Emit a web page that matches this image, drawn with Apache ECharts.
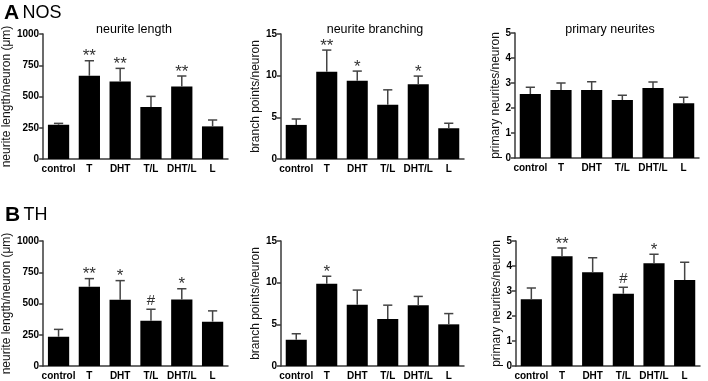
<!DOCTYPE html>
<html>
<head>
<meta charset="UTF-8">
<title>NOS / TH neurite morphology</title>
<style>
body{margin:0;background:#fff;}
</style>
</head>
<body>
<div id="main" style="width:708px;height:381px;"></div>
<script src="https://cdn.jsdelivr.net/npm/echarts@6/dist/echarts.min.js"></script>
<script>
var groups = ['control', 'T', 'DHT', 'T/L', 'DHT/L', 'L'];

// A  NOS neurons
var nosLength = [274, 666, 621, 416, 581, 261];
var nosLengthSem = [11, 120, 104, 85, 83, 51];
var nosLengthSig = ['', '**', '**', '', '**', ''];

var nosBranch = [4.09, 10.46, 9.38, 6.5, 8.98, 3.69];
var nosBranchSem = [0.71, 2.61, 1.17, 1.8, 0.97, 0.6];
var nosBranchSig = ['', '**', '*', '', '*', ''];

var nosPrimary = [2.56, 2.72, 2.72, 2.32, 2.8, 2.19];
var nosPrimarySem = [0.27, 0.28, 0.33, 0.19, 0.24, 0.24];
var nosPrimarySig = ['', '', '', '', '', ''];

// B  TH neurons
var thLength = [234, 634, 530, 363, 532, 355];
var thLengthSem = [59, 65, 153, 91, 86, 86];
var thLengthSig = ['', '**', '*', '#', '*', ''];

var thBranch = [3.15, 9.88, 7.34, 5.65, 7.3, 5.0];
var thBranchSem = [0.72, 0.89, 1.77, 1.65, 1.05, 1.29];
var thBranchSig = ['', '*', '', '', '', ''];

var thPrimary = [2.67, 4.39, 3.75, 2.89, 4.11, 3.44];
var thPrimarySem = [0.45, 0.33, 0.58, 0.26, 0.36, 0.71];
var thPrimarySig = ['', '**', '', '#', '*', ''];

// y axis ranges
var lengthTicks = [0, 1000, 250];
var branchTicks = [0, 15, 5];
var primaryTicks = [0, 5, 1];

var panels = [
	{mean: nosLength, sem: nosLengthSem, sig: nosLengthSig, ticks: lengthTicks, name: 'neurite length/neuron (\u03bcm)', left: 42, top: 34, width: 186, gap: 23},
	{mean: nosBranch, sem: nosBranchSem, sig: nosBranchSig, ticks: branchTicks, name: 'branch points/neuron', left: 281, top: 34, width: 183, gap: 18},
	{mean: nosPrimary, sem: nosPrimarySem, sig: nosPrimarySig, ticks: primaryTicks, name: 'primary neurites/neuron', left: 515, top: 33, width: 184, gap: 13},
	{mean: thLength, sem: thLengthSem, sig: thLengthSig, ticks: lengthTicks, name: 'neurite length/neuron (\u03bcm)', left: 42, top: 241, width: 186, gap: 23},
	{mean: thBranch, sem: thBranchSem, sig: thBranchSig, ticks: branchTicks, name: 'branch points/neuron', left: 281, top: 241, width: 183, gap: 18},
	{mean: thPrimary, sem: thPrimarySem, sig: thPrimarySig, ticks: primaryTicks, name: 'primary neurites/neuron', left: 516, top: 241, width: 184, gap: 13}
];

var FONT = '"Liberation Sans", Arial, sans-serif';
var AXIS = '#3a3a3a';

var grids = [], xAxes = [], yAxes = [], series = [];

panels.forEach(function(p, k){
	grids.push({left: p.left, top: p.top, width: p.width, height: 125});
	xAxes.push({
		type: 'category', gridIndex: k, data: groups,
		axisLine: {lineStyle: {color: AXIS, width: 1.5}},
		axisTick: {show: false},
		axisLabel: {color: '#000', fontWeight: 'bold', fontSize: 10, fontFamily: FONT, margin: 5, interval: 0}
	});
	yAxes.push({
		type: 'value', gridIndex: k, min: p.ticks[0], max: p.ticks[1], interval: p.ticks[2],
		name: p.name, nameLocation: 'middle', nameGap: p.gap,
		nameTextStyle: {color: '#111', fontSize: 12, fontFamily: FONT},
		axisLine: {show: true, lineStyle: {color: AXIS, width: 1.5}},
		axisTick: {show: true, length: 4, lineStyle: {color: AXIS, width: 1.5}},
		axisLabel: {color: '#000', fontWeight: 'bold', fontSize: 10, fontFamily: FONT, margin: 4,
			formatter: function(v){ return String(v); }},
		splitLine: {show: false}
	});
	series.push({
		type: 'bar', xAxisIndex: k, yAxisIndex: k, data: p.mean,
		barWidth: '69%', itemStyle: {color: '#000'}, silent: true
	});
	// error bars (upper only) with significance marks
	var errData = p.mean.map(function(v, i){ return [i, v, v + p.sem[i]]; });
	series.push({
		type: 'custom', xAxisIndex: k, yAxisIndex: k, data: errData, z: 3, silent: true,
		renderItem: function(params, api){
			var i = params.dataIndex;
			var base = api.coord([api.value(0), api.value(1)]);
			var top = api.coord([api.value(0), api.value(2)]);
			var half = api.size([1, 0])[0] * 0.15;
			var st = {stroke: '#444', lineWidth: 1.5};
			var kids = [
				{type: 'line', shape: {x1: base[0], y1: base[1], x2: top[0], y2: top[1]}, style: st},
				{type: 'line', shape: {x1: top[0] - half, y1: top[1], x2: top[0] + half, y2: top[1]}, style: st}
			];
			var mark = p.sig[i];
			if (mark) {
				kids.push({type: 'text', x: top[0], y: top[1] - (mark === '#' ? 8 : 4),
					style: {text: mark, fill: '#333', font: (mark === '#' ? '15px ' : '17px ') + FONT, align: 'center', verticalAlign: 'middle'}});
			}
			return {type: 'group', children: kids};
		}
	});
});

var titles = [
	{x: 4, y: 3, head: 'A', tail: 'NOS'},
	{x: 5, y: 205, head: 'B', tail: 'TH'}
];
var subTitles = [
	{x: 134, y: 23, text: 'neurite length'},
	{x: 375, y: 23, text: 'neurite branching'},
	{x: 610, y: 23, text: 'primary neurites'}
];

var graphics = [];
titles.forEach(function(t){
	graphics.push({type: 'text', left: t.x, top: t.y, style: {
		text: '{h|' + t.head + '} {t|' + t.tail + '}',
		rich: {
			h: {font: 'bold 21px ' + FONT, fill: '#000'},
			t: {font: '18px ' + FONT, fill: '#000'}
		}
	}});
});
subTitles.forEach(function(t){
	graphics.push({type: 'text', x: t.x, y: t.y, style: {text: t.text, font: '12.5px ' + FONT, fill: '#000', align: 'center', verticalAlign: 'top'}});
});

var myChart = echarts.init(document.getElementById('main'));
myChart.setOption({
	animation: false,
	backgroundColor: '#fff',
	grid: grids,
	xAxis: xAxes,
	yAxis: yAxes,
	series: series,
	graphic: graphics
});
</script>
</body>
</html>
